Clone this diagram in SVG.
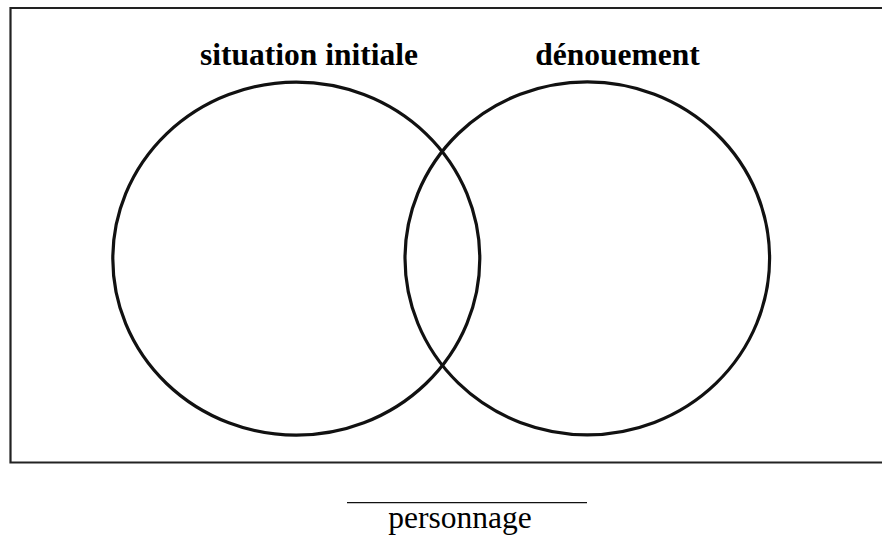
<svg xmlns="http://www.w3.org/2000/svg" width="882" height="539" viewBox="0 0 882 539">
<style>
.c{fill:none;stroke:#111;stroke-width:3.2}
.t{font-family:"Liberation Serif","Times New Roman",serif;font-size:31.5px;fill:#000}
.b{font-weight:bold}
</style>
<rect width="882" height="539" fill="#fff"/>
<g id="frame"><path d="M890,8 H10.5 V462.5 H890" fill="none" stroke="#222" stroke-width="2.2"/></g>
<g id="left"><ellipse class="c" cx="296.3" cy="258.7" rx="183.5" ry="176.5"/><text class="t b" x="309" y="65" text-anchor="middle">situation initiale</text></g>
<g id="right"><ellipse class="c" cx="587.3" cy="258.3" rx="182.3" ry="176.5"/><text class="t b" x="617.5" y="65" text-anchor="middle">dénouement</text></g>
<g id="connectors"></g>
<g id="label"><line x1="347" y1="502.7" x2="587" y2="502.7" stroke="#111" stroke-width="1.2"/><text class="t" x="460" y="528" text-anchor="middle">personnage</text></g>
</svg>
